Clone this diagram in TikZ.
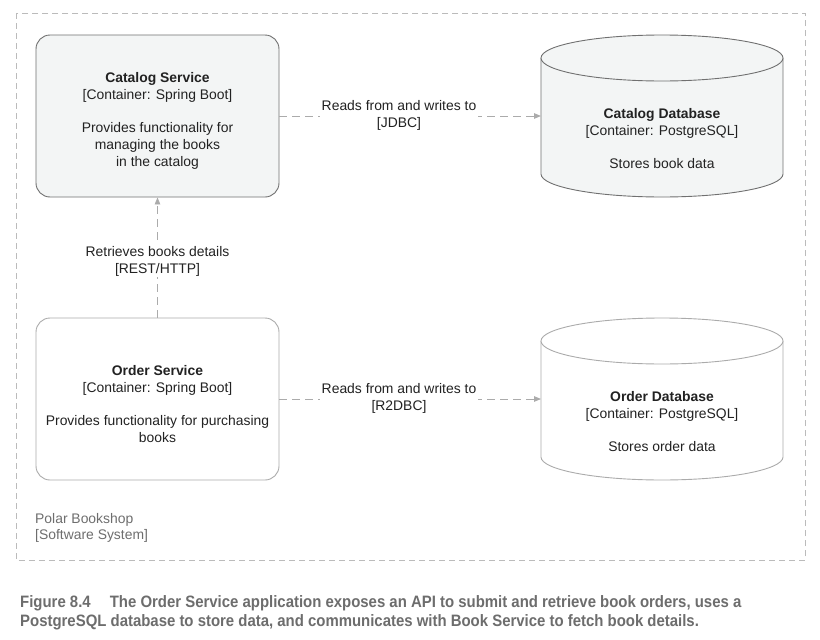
\documentclass[tikz,border=0pt]{standalone}
\usepackage{fontspec}
\setmainfont{Liberation Sans}
\usetikzlibrary{arrows.meta}
\definecolor{darkb}{HTML}{707070}
\definecolor{lightb}{HTML}{ABABAB}
\definecolor{sysline}{HTML}{BBBBBB}
\definecolor{arrowgray}{HTML}{ABABAB}
\definecolor{catfill}{HTML}{F3F5F5}
\definecolor{sysgray}{HTML}{6E6E6E}
\definecolor{capgray}{HTML}{6D6D6D}
\definecolor{txt}{HTML}{222222}
\tikzset{
  svc/.style={rectangle, rounded corners=14pt, minimum width=243pt, minimum height=162pt,
    align=center, inner sep=0pt, line width=0.9pt, text=txt},
  dbnode/.style={rectangle, minimum width=242pt, minimum height=162pt, align=center,
    inner sep=0pt, text=txt},
  conn/.style={draw=arrowgray, line width=0.9pt, dash pattern=on 8pt off 5pt,
    -{Triangle[length=7pt,width=5.5pt]}},
  lbl/.style={fill=white, align=center, inner sep=1.5pt, text=txt},
}
\begin{document}
\begin{tikzpicture}[x=1pt,y=-1pt,font=\fontsize{13.9}{17}\selectfont]
\useasboundingbox (0,0) rectangle (820,640);
\fill[white] (0,0) rectangle (820,640);
% system boundary
\draw[sysline, line width=0.9pt, dash pattern=on 6pt off 4pt] (16,13) rectangle (805,560);
% catalog database cylinder
\fill[catfill] (541,58) rectangle (783,174);
\fill[catfill] (662,174) ellipse[x radius=121, y radius=23];
\draw[darkb, line width=0.9pt] (541,58) -- (541,174)
  .. controls (541,186.7) and (595.2,197) .. (662,197)
  .. controls (728.8,197) and (783,186.7) .. (783,174) -- (783,58);
\draw[darkb, line width=0.9pt, fill=catfill] (662,58) ellipse[x radius=121, y radius=23];
% order database cylinder
\fill[white] (541,341) rectangle (783,457);
\draw[lightb, line width=0.9pt] (541,341) -- (541,457)
  .. controls (541,469.7) and (595.2,480) .. (662,480)
  .. controls (728.8,480) and (783,469.7) .. (783,457) -- (783,341);
\draw[lightb, line width=0.9pt, fill=white] (662,341) ellipse[x radius=121, y radius=23];
% nodes
\node[svc, draw=darkb, fill=catfill] (cat) at (157.5,116) {};
\node[svc, draw=lightb, fill=white] (ord) at (157.5,399) {};
\node[align=center, text=txt, inner sep=0pt] (cattext) at (157.5,121)
  {\textbf{Catalog Service}\\{}[Container: Spring Boot]\\[16pt]Provides functionality for\\managing the books\\in the catalog};
\node[align=center, text=txt, inner sep=0pt] (ordtext) at (157.5,404)
  {\textbf{Order Service}\\{}[Container: Spring Boot]\\[16pt]Provides functionality for purchasing\\books};
\node[dbnode] (catdb) at (662,139)
  {\textbf{Catalog Database}\\{}[Container: PostgreSQL]\\[16pt]Stores book data};
\node[dbnode] (orddb) at (662,422)
  {\textbf{Order Database}\\{}[Container: PostgreSQL]\\[16pt]Stores order data};
\coordinate (catdbw) at (541,116);
\coordinate (orddbw) at (541,399);
% connectors
\draw[conn] (cat.east) -- (catdbw);
\draw[conn] (ord.east) -- (orddbw);
\draw[conn] (ord.north) -- (cat.south);
\node[lbl] (l1) at (399,115) {Reads from and writes to\\{}[JDBC]};
\node[lbl] (l2) at (399,398) {Reads from and writes to\\{}[R2DBC]};
\node[lbl] (l3) at (157.5,261) {Retrieves books details\\{}[REST/HTTP]};
% system label
\node[anchor=north west, align=left, inner sep=0pt, text=sysgray,
  font=\fontsize{13.9}{16}\selectfont] (sys) at (35,513)
  {Polar Bookshop\\{}[Software System]};
% caption
\node[anchor=north west, align=left, inner sep=0pt, text=capgray,
  font=\fontsize{16.5}{19.5}\selectfont\bfseries] (cap) at (20,595)
  {\scalebox{0.905}[1]{Figure 8.4\hspace{1em} The Order Service application exposes an API to submit and retrieve book orders, uses a}\\
   \scalebox{0.905}[1]{PostgreSQL database to store data, and communicates with Book Service to fetch book details.}};
\end{tikzpicture}
\end{document}
